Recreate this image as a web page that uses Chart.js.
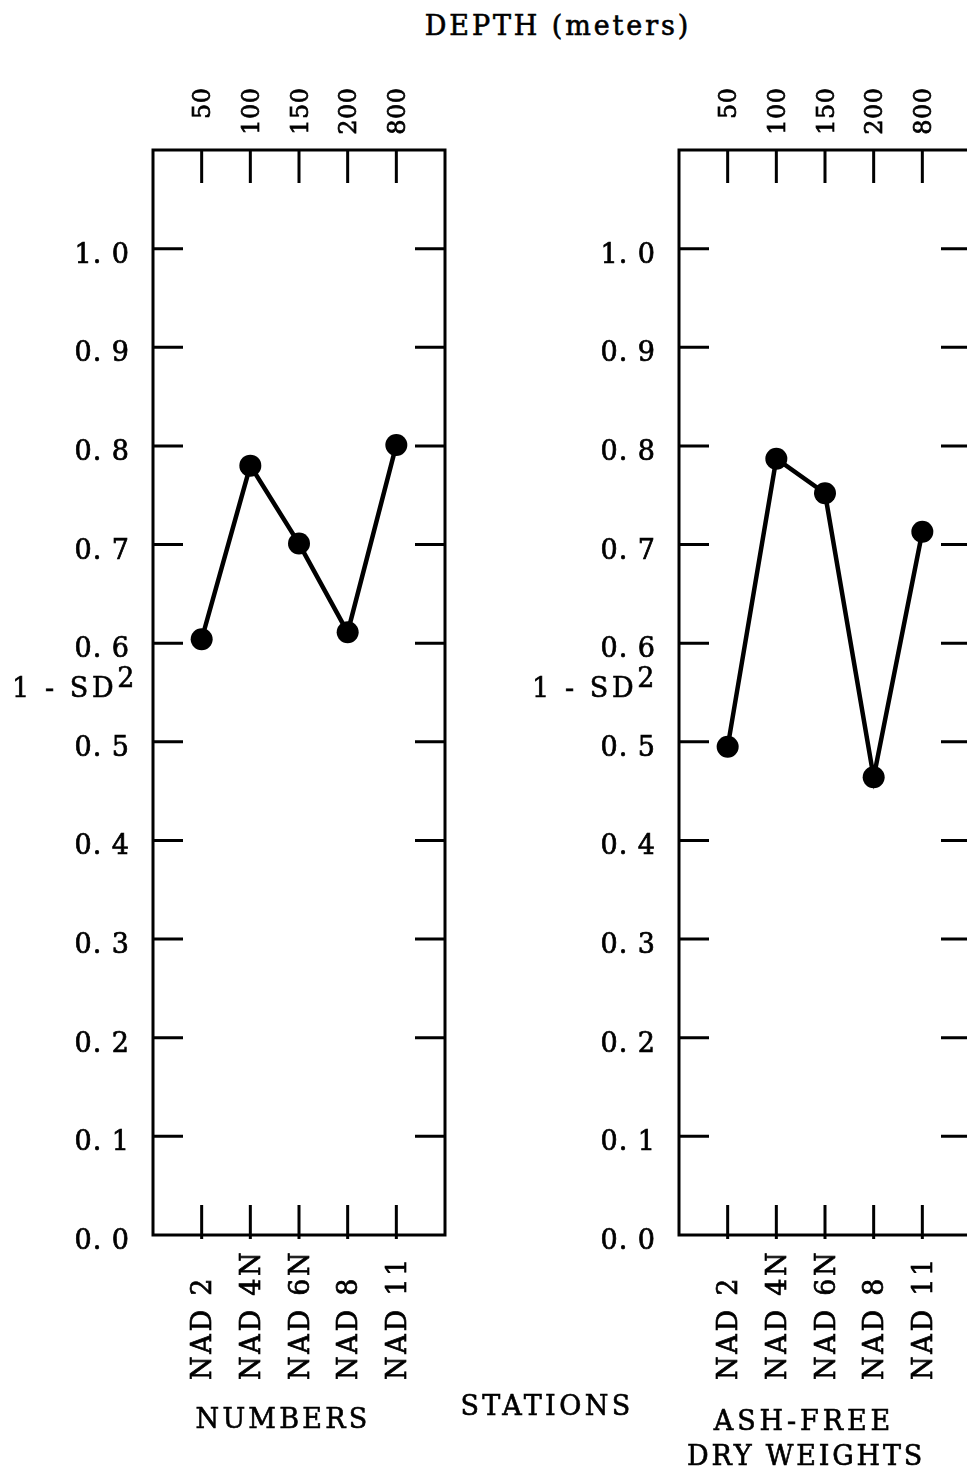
<!DOCTYPE html>
<html>
<head>
<meta charset="utf-8">
<script src="https://cdn.jsdelivr.net/npm/chart.js@4.4.1/dist/chart.umd.min.js"></script>
<style>
  html, body { margin: 0; padding: 0; background: #fff; }
  body { width: 967px; height: 1471px; position: relative; overflow: hidden; font-family: "DejaVu Serif", serif; color: #000; }
  .panel { position: absolute; top: 0; width: 480px; height: 1471px; }
  .panel canvas { position: absolute; left: 0; top: 0; }
  .lbl { position: absolute; white-space: nowrap; font-size: 27px; letter-spacing: 3px; line-height: 1; -webkit-text-stroke: 0.6px #000; }
  .mid { transform: translateX(-50%); }
  .sup { position: relative; top: -10px; }
</style>
</head>
<body>
<div class="lbl mid" style="left:558px;top:12px;letter-spacing:2.9px">DEPTH (meters)</div>

<div class="panel" style="left:0">
  <canvas id="chartNumbers" width="480" height="1471"></canvas>
  <div class="lbl" style="left:12px;top:674px;letter-spacing:3.6px">1 - SD<span class="sup">2</span></div>
</div>

<div class="panel" style="left:526px">
  <canvas id="chartDryWeights" width="480" height="1471"></canvas>
  <div class="lbl" style="left:6px;top:674px;letter-spacing:3.6px">1 - SD<span class="sup">2</span></div>
</div>

<div class="lbl mid" style="left:283px;top:1405px;letter-spacing:3.2px">NUMBERS</div>
<div class="lbl mid" style="left:547px;top:1392px;letter-spacing:3.4px">STATIONS</div>
<div class="lbl mid" style="left:804px;top:1407px;letter-spacing:3.9px">ASH-FREE</div>
<div class="lbl mid" style="left:806px;top:1442px;letter-spacing:2.8px">DRY WEIGHTS</div>

<script>
// stations along the bottom, depths along the top
const stations = ['NAD 2', 'NAD 4N', 'NAD 6N', 'NAD 8', 'NAD 11'];
const depths = ['50', '100', '150', '200', '800'];

// 1 - SD^2 per station
const numbersVals = [0.604, 0.780, 0.701, 0.611, 0.801];
const dryWeightVals = [0.495, 0.787, 0.752, 0.464, 0.713];

const yTickVals = [0.0, 0.1, 0.2, 0.3, 0.4, 0.5, 0.6, 0.7, 0.8, 0.9, 1.0];

const serif = '"DejaVu Serif", serif';

function inkText(ctx, txt, x, y) {
  ctx.fillText(txt, x, y);
  ctx.strokeText(txt, x, y);
}

// box, inward tick marks and the rotated top/bottom labels
const framePlugin = {
  id: 'frame',
  beforeDraw(chart) {
    chart.ctx.letterSpacing = '1px';
  },
  beforeDatasetsDraw(chart) {
    const { ctx, chartArea: a, scales: { x, y } } = chart;
    ctx.save();
    ctx.strokeStyle = '#000';
    ctx.lineWidth = 3;
    ctx.strokeRect(a.left, a.top, a.right - a.left, a.bottom - a.top);
    ctx.beginPath();
    yTickVals.filter(v => v > 0).forEach(v => {
      const py = y.getPixelForValue(v);
      ctx.moveTo(a.left, py); ctx.lineTo(a.left + 30, py);
      ctx.moveTo(a.right - 30, py); ctx.lineTo(a.right, py);
    });
    stations.forEach((s, i) => {
      const px = x.getPixelForValue(i);
      ctx.moveTo(px, a.top); ctx.lineTo(px, a.top + 33);
      ctx.moveTo(px, a.bottom - 30); ctx.lineTo(px, a.bottom + 4);
    });
    ctx.stroke();
    ctx.restore();
  },
  afterDraw(chart) {
    const { ctx, scales: { x } } = chart;
    ctx.save();
    ctx.fillStyle = '#000';
    ctx.strokeStyle = '#000';
    ctx.lineWidth = 0.7;
    ctx.textBaseline = 'alphabetic';

    // depth labels, top ends lined up
    ctx.font = '24px ' + serif;
    ctx.letterSpacing = '0.5px';
    depths.forEach((d, i) => {
      ctx.save();
      ctx.translate(x.getPixelForValue(i), 88);
      ctx.rotate(-Math.PI / 2);
      ctx.textAlign = 'right';
      inkText(ctx, d, 0.5, 8.7);
      ctx.restore();
    });

    // station labels, bottom ends lined up
    ctx.font = '27px ' + serif;
    ctx.letterSpacing = '2.7px';
    stations.forEach((s, i) => {
      ctx.save();
      ctx.translate(x.getPixelForValue(i), 1380);
      ctx.rotate(-Math.PI / 2);
      ctx.textAlign = 'left';
      inkText(ctx, s, 0, 9.8);
      ctx.restore();
    });
    ctx.restore();
  }
};

function makePanel(id, vals) {
  const ctx = document.getElementById(id).getContext('2d');
  return new Chart(ctx, {
    type: 'line',
    data: {
      datasets: [{
        data: vals.map((v, i) => ({ x: i, y: v })),
        borderColor: '#000',
        borderWidth: 4.5,
        pointRadius: 11,
        pointBackgroundColor: '#000',
        pointBorderWidth: 0,
        tension: 0
      }]
    },
    options: {
      responsive: false,
      animation: false,
      devicePixelRatio: 1,
      layout: { padding: { left: 0, top: 150, right: 35, bottom: 236 } },
      plugins: { legend: { display: false }, tooltip: { enabled: false } },
      scales: {
        x: { type: 'linear', min: -1, max: 5, display: false },
        y: {
          min: 0,
          max: 1.1,
          afterBuildTicks: s => { s.ticks = yTickVals.map(v => ({ value: v })); },
          afterFit: s => { s.width = 153; },
          grid: { display: false, drawTicks: false },
          border: { display: false },
          ticks: {
            padding: 23,
            labelOffset: 7,
            color: '#000',
            textStrokeColor: '#000',
            textStrokeWidth: 0.7,
            font: { family: 'DejaVu Serif', size: 27 },
            callback: v => v.toFixed(1).replace('.', '. ')
          }
        }
      }
    },
    plugins: [framePlugin]
  });
}

makePanel('chartNumbers', numbersVals);
makePanel('chartDryWeights', dryWeightVals);
</script>
</body>
</html>
